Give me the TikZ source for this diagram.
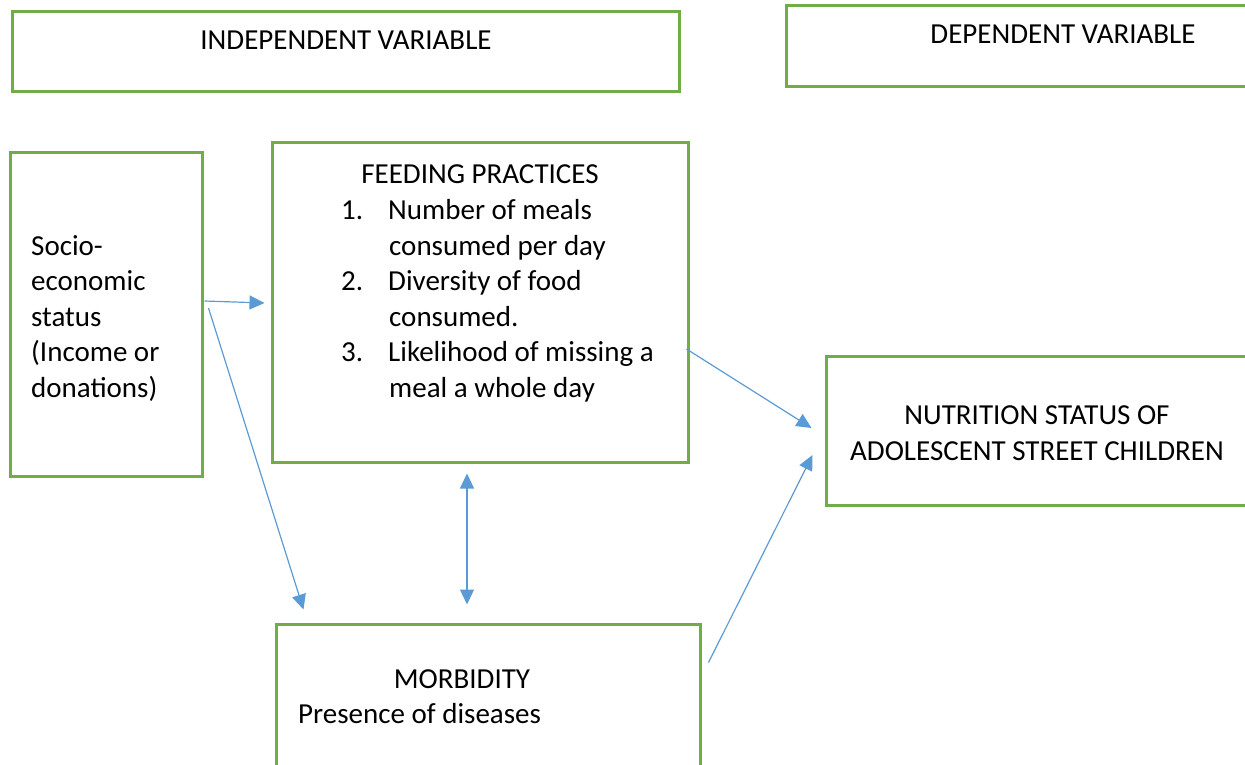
\documentclass[tikz,border=0pt]{standalone}
\usepackage{fontspec}
\setmainfont{Carlito}
\usepackage{tikz}
\usetikzlibrary{positioning}
\usetikzlibrary{arrows.meta}
\usetikzlibrary{calc}
\definecolor{boxgreen}{RGB}{112,173,71}
\definecolor{arrowblue}{RGB}{91,155,213}

\begin{document}
\begin{tikzpicture}[
    x=1pt, y=-1pt,
    box/.style={rectangle, draw=boxgreen, line width=3pt, inner sep=0pt},
    arrow/.style={-{Triangle[length=15pt, width=14pt]}, draw=arrowblue, line width=1.2pt},
    dblarrow/.style={{Triangle[length=15pt, width=14pt]}-{Triangle[length=15pt, width=14pt]}, draw=arrowblue, line width=1.2pt},
    txt/.style={font=\fontsize{29}{35.5}\selectfont, inner sep=0pt, align=left}
]
\useasboundingbox (0,0) rectangle (1245,765);

% boxes
\node[box, minimum width=667pt, minimum height=80pt] (indep) at (345.5,52) {};
\node[box, minimum width=474pt, minimum height=81pt] (dep) at (1023,46.5) {};
\node[box, minimum width=192pt, minimum height=323pt] (socio) at (106,314.5) {};
\node[box, minimum width=416pt, minimum height=319pt] (feeding) at (480,302.5) {};
\node[box, minimum width=434pt, minimum height=149pt] (nutr) at (1043,430.5) {};
\node[box, minimum width=424pt, minimum height=156pt] (morb) at (488,702) {};

% texts (base = last line)
\node[txt, anchor=base] (indeptxt) at (346,50) {INDEPENDENT VARIABLE};
\node[txt, anchor=base] (deptxt) at (1063,44) {DEPENDENT VARIABLE};
\node[txt, anchor=base west] (sociotxt) at (31,397) {Socio-\\economic\\status\\(Income or\\donations)};
\node[txt, anchor=base] (feedtitle) at (480,183) {FEEDING PRACTICES};
\node[txt, anchor=base west] (feedlist) at (341,397) {1.\hspace{25pt}Number of meals\\\hspace{48pt}consumed per day\\2.\hspace{25pt}Diversity of food\\\hspace{48pt}consumed.\\3.\hspace{25pt}Likelihood of missing a\\\hspace{48pt}meal a whole day};
\node[txt, anchor=base, align=center] (nutrtxt) at (1037,460) {NUTRITION STATUS OF\\ADOLESCENT STREET CHILDREN};
\node[txt, anchor=base] (morbtitle) at (462,688) {MORBIDITY};
\node[txt, anchor=base west] (morbtxt) at (298,723) {Presence of diseases};

% connectors
\draw[arrow] ($(socio.east)+(1,-13.5)$) -- ($(feeding.west)+(-6,0.5)$);
\draw[arrow] ($(socio.east)+(5,-6.5)$) -- ($(morb.north west)+(29,-13)$);
\draw[dblarrow] ($(feeding.south)+(-13,10)$) -- ($(morb.north)+(-21,-18)$);
\draw[arrow] ($(feeding.east)+(-3,46.5)$) -- ($(nutr.west)+(-13,-2.5)$);
\draw[arrow] ($(morb.north east)+(7,40)$) -- ($(nutr.west)+(-12,24.5)$);

\end{tikzpicture}
\end{document}
